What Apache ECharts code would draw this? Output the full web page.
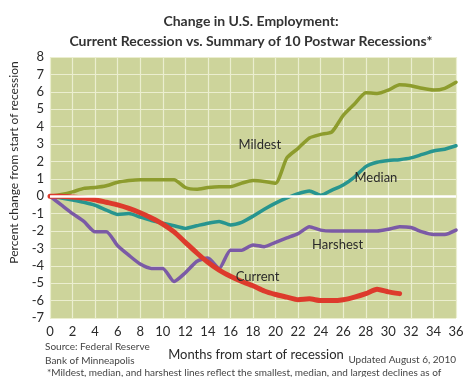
<!DOCTYPE html>
<html>
<head>
<meta charset="utf-8">
<script src="https://cdn.jsdelivr.net/npm/echarts@6/dist/echarts.min.js"></script>
<style>
  html, body { margin: 0; padding: 0; background: #fff; }
  #chart { width: 473px; height: 377px; }
</style>
</head>
<body>
<div id="chart"></div>
<script>
const months = [];
for (let i = 0; i <= 36; i++) months.push(i);

const mildest = [0, 0.1, 0.25, 0.45, 0.5, 0.6, 0.8, 0.9, 0.95, 0.95, 0.95, 0.95, 0.5, 0.4, 0.5, 0.55, 0.55, 0.75, 0.9, 0.85, 0.75,
  2.2, 2.75, 3.35, 3.55, 3.7, 4.65, 5.3, 5.95, 5.9, 6.1, 6.4, 6.35, 6.2, 6.1, 6.2, 6.55];
const median = [0, -0.1, -0.22, -0.35, -0.52, -0.8, -1.05, -1.0, -1.2, -1.4, -1.55, -1.7, -1.85, -1.7, -1.55, -1.45, -1.65, -1.5, -1.15,
  -0.75, -0.4, -0.1, 0.15, 0.3, 0.05, 0.35, 0.65, 1.1, 1.7, 1.95, 2.05, 2.1, 2.2, 2.4, 2.6, 2.7, 2.9];
const harshest = [0, -0.5, -1.0, -1.45, -2.05, -2.05, -2.85, -3.4, -3.9, -4.15, -4.15, -4.9, -4.4, -3.75, -3.55, -4.15, -3.1, -3.1, -2.8,
  -2.9, -2.65, -2.4, -2.15, -1.75, -1.95, -2.0, -2.0, -2.0, -2.0, -2.0, -1.9, -1.75, -1.8, -2.05, -2.2, -2.2, -1.95];
const current = [0, 0, -0.05, -0.1, -0.2, -0.35, -0.5, -0.7, -0.95, -1.25, -1.6, -2.05, -2.65, -3.25, -3.8, -4.25, -4.6, -4.9, -5.15,
  -5.45, -5.65, -5.8, -5.95, -5.9, -6.0, -6.0, -5.95, -5.8, -5.6, -5.35, -5.5, -5.6];

// where the in-chart series names sit: [month, value]
const labelSpots = {
  Mildest: [18.6, 2.95],
  Median: [28.9, 1.05],
  Harshest: [25.5, -2.8],
  Current: [18.4, -4.65]
};

const font = 'Lato, "Noto Sans", sans-serif';

function pairs(arr) {
  return arr.map((v, i) => [months[i], v]);
}

function makeSeries(name, data, color, width, z) {
  return {
    name: name,
    type: 'line',
    data: pairs(data),
    symbol: 'none',
    smooth: 0.2,
    z: z,
    lineStyle: { color: color, width: width, cap: 'round', join: 'round' },
    markPoint: {
      symbol: 'circle',
      symbolSize: 0,
      silent: true,
      data: [{ coord: labelSpots[name] }],
      label: { show: true, formatter: name, color: '#2a2a2a', fontFamily: font, fontSize: 13, position: 'inside' }
    }
  };
}

const chart = echarts.init(document.getElementById('chart'));
chart.setOption({
  backgroundColor: '#fff',
  animation: false,
  title: {
    text: 'Change in U.S. Employment:\nCurrent Recession vs. Summary of 10 Postwar Recessions*',
    left: 246,
    textAlign: 'center',
    top: 6,
    textStyle: { fontFamily: font, fontSize: 14, fontWeight: 'bold', color: '#333', lineHeight: 20 }
  },
  grid: {
    left: 45, right: 17, top: 57, bottom: 59,
    show: true, backgroundColor: '#cdd49b', borderWidth: 0
  },
  xAxis: {
    type: 'value', min: 0, max: 36, interval: 2,
    name: 'Months from start of recession',
    nameLocation: 'middle', nameGap: 30,
    nameTextStyle: { fontFamily: font, fontSize: 13, color: '#2a2a2a', padding: [0, 0, 0, 6] },
    axisLine: { show: false }, axisTick: { show: false },
    axisLabel: { fontFamily: font, fontSize: 13, color: '#2a2a2a', margin: 7 },
    splitLine: { show: true, lineStyle: { color: '#ebeecf', width: 1.2 } }
  },
  yAxis: {
    type: 'value', min: -7, max: 8, interval: 1,
    name: 'Percent change from start of recession',
    nameLocation: 'middle', nameGap: 30, nameRotate: 90,
    nameTextStyle: { fontFamily: font, fontSize: 12, color: '#2a2a2a', padding: [0, 0, 0, 50] },
    axisLine: { show: false }, axisTick: { show: false },
    axisLabel: { fontFamily: font, fontSize: 13, color: '#2a2a2a', margin: 6 },
    splitLine: { show: true, lineStyle: { color: '#ebeecf', width: 1.2 } }
  },
  series: [
    {
      type: 'line', data: [], silent: true,
      markLine: {
        silent: true, symbol: 'none', label: { show: false },
        lineStyle: { color: '#ffffff', width: 2.5, type: 'solid' },
        data: [{ yAxis: 0 }]
      }
    },
    makeSeries('Mildest', mildest, '#8d9c2d', 3.5, 3),
    makeSeries('Median', median, '#27958f', 3.5, 3),
    makeSeries('Harshest', harshest, '#7b5aa6', 3.5, 3),
    makeSeries('Current', current, '#dd3a2c', 5, 4)
  ],
  graphic: [
    { type: 'text', left: 45, top: 340, style: { text: 'Source: Federal Reserve\nBank of Minneapolis', fontFamily: font, fontSize: 10, lineHeight: 14, fill: '#444' } },
    { type: 'text', right: 17, top: 355, style: { text: 'Updated August 6, 2010', fontFamily: font, fontSize: 10, fill: '#444' } },
    { type: 'text', left: 47, top: 368, style: { text: '*Mildest, median, and harshest lines reflect the smallest, median, and largest declines as of', fontFamily: font, fontSize: 10, fill: '#444' } }
  ]
});
</script>
</body>
</html>
